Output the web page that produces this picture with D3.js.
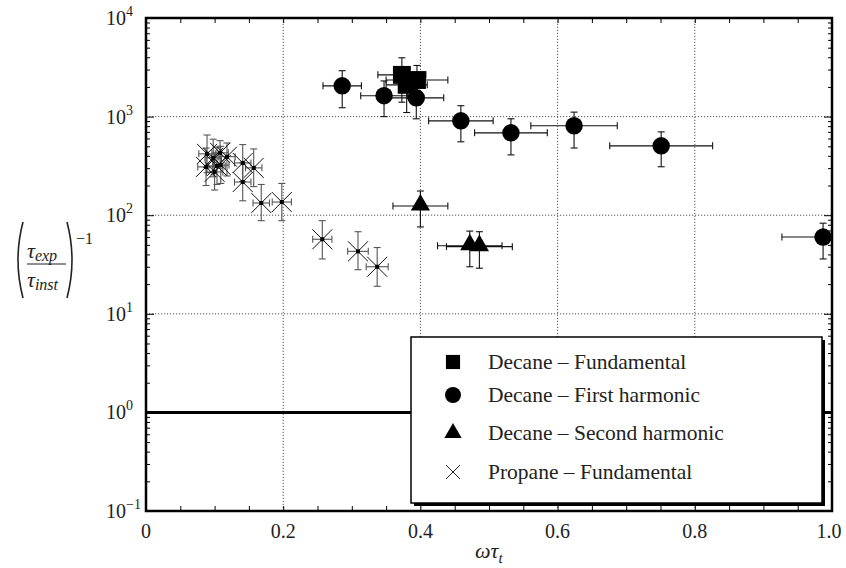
<!DOCTYPE html>
<html><head><meta charset="utf-8">
<script src="https://cdn.jsdelivr.net/npm/d3@7"></script>
<style>body{margin:0;background:#fff}svg{display:block}text{font-family:"Liberation Serif","Times New Roman",serif}</style>
</head><body><svg id="c" width="846" height="568"></svg>
<script>
// ---- data ----
const xTicks = [0, 0.2, 0.4, 0.6, 0.8, 1.0];
const xTickLabels = ["0", "0.2", "0.4", "0.6", "0.8", "1.0"];
const yTickExps = [-1, 0, 1, 2, 3, 4];

const sqX = [0.373, 0.395, 0.380];
const sqY = [2650, 2350, 2100];
const sqXerr = [0.035, 0.045, 0.030];
const sqYlo = [1400, 1700, 1100];
const sqYhi = [3950, 3300, 3000];

const ciX = [0.286, 0.347, 0.394, 0.459, 0.532, 0.624, 0.751, 0.987];
const ciY = [2050, 1630, 1550, 906, 684, 807, 505, 60];
const ciXerr = [0.028, 0.034, 0.040, 0.047, 0.053, 0.063, 0.075, 0.060];
const ciYlo = [1230, 1000, 950, 555, 409, 480, 310, 36];
const ciYhi = [2920, 2300, 2250, 1290, 950, 1110, 700, 83];

const trX = [0.400, 0.472, 0.486];
const trY = [124, 49, 48];
const trXerr = [0.040, 0.047, 0.048];
const trYlo = [76, 30, 29];
const trYhi = [176, 69, 68];

const prX = [0.089, 0.0875, 0.098, 0.1035, 0.109, 0.108, 0.118, 0.100, 0.141, 0.157, 0.141, 0.168, 0.198, 0.257, 0.309, 0.337];
const prY = [419, 309, 381, 316, 323, 429, 392, 275, 339, 302, 217, 133, 136, 57, 43, 30];
const prXerr = [0.012, 0.012, 0.012, 0.012, 0.012, 0.012, 0.012, 0.012, 0.012, 0.012, 0.012, 0.012, 0.014, 0.014, 0.015, 0.016];
const prYlo = [270, 200, 245, 205, 210, 300, 250, 180, 220, 195, 140, 88, 88, 36, 28, 19];
const prYhi = [650, 480, 590, 490, 500, 570, 540, 420, 520, 470, 340, 205, 210, 88, 68, 47];

const legendLabels = ["Decane \u2013 Fundamental", "Decane \u2013 First harmonic", "Decane \u2013 Second harmonic", "Propane \u2013 Fundamental"];

// ---- drawing ----
const svg = d3.select("#c");
const X0 = 146, X1 = 832, Y0 = 511, Y1 = 18;
const x = d3.scaleLinear().domain([0, 1]).range([X0, X1]);
const y = d3.scaleLog().domain([0.1, 1e4]).range([Y0, Y1]);

// grid
const grid = svg.append("g").attr("stroke", "#555").attr("stroke-width", 1).attr("stroke-dasharray", "1.2,1.8");
xTicks.slice(1, -1).forEach(v => grid.append("line").attr("x1", x(v)).attr("x2", x(v)).attr("y1", Y0).attr("y2", Y1));
yTickExps.slice(1, -1).forEach(e => grid.append("line").attr("x1", X0).attr("x2", X1).attr("y1", y(Math.pow(10, e))).attr("y2", y(Math.pow(10, e))));

// minor/major ticks via axes (inward)
const xMinor = d3.range(0, 1.0001, 0.05);
const axB = d3.axisTop(x).tickValues(xMinor).tickSize(5).tickFormat("");
const axT = d3.axisBottom(x).tickValues(xMinor).tickSize(5).tickFormat("");
svg.append("g").attr("transform", `translate(0,${Y0})`).call(axB).call(g => g.select(".domain").remove());
svg.append("g").attr("transform", `translate(0,${Y1})`).call(axT).call(g => g.select(".domain").remove());
const yMinor = [];
for (let e = -1; e < 4; e++) for (let m = 2; m <= 9; m++) yMinor.push(m * Math.pow(10, e));
const yMajor = yTickExps.map(e => Math.pow(10, e));
svg.append("g").attr("transform", `translate(${X0},0)`).call(d3.axisRight(y).tickValues(yMinor).tickSize(4).tickFormat("")).call(g => g.select(".domain").remove());
svg.append("g").attr("transform", `translate(${X1},0)`).call(d3.axisLeft(y).tickValues(yMinor).tickSize(4).tickFormat("")).call(g => g.select(".domain").remove());
svg.append("g").attr("transform", `translate(${X0},0)`).call(d3.axisRight(y).tickValues(yMajor).tickSize(8).tickFormat("")).call(g => g.select(".domain").remove());
svg.append("g").attr("transform", `translate(${X1},0)`).call(d3.axisLeft(y).tickValues(yMajor).tickSize(8).tickFormat("")).call(g => g.select(".domain").remove());
svg.selectAll(".tick line").attr("stroke", "#000").attr("stroke-width", 1);

// y = 1 line
svg.append("line").attr("x1", x(0)).attr("x2", x(1)).attr("y1", y(1)).attr("y2", y(1)).attr("stroke", "#000").attr("stroke-width", 3);

// frame
svg.append("rect").attr("x", X0).attr("y", Y1).attr("width", X1 - X0).attr("height", Y0 - Y1)
  .attr("fill", "none").attr("stroke", "#000").attr("stroke-width", 2.5);

// tick labels
const xl = svg.append("g").attr("font-size", 20).attr("text-anchor", "middle").attr("fill", "#222");
xTicks.forEach((v, i) => xl.append("text").attr("x", x(v) - (i === xTicks.length - 1 ? 3 : 0)).attr("y", Y0 + 27).text(xTickLabels[i]));
const yl = svg.append("g").attr("font-size", 20).attr("fill", "#222");
yTickExps.forEach(e => {
  const t = yl.append("text").attr("x", X0 - 40).attr("y", y(Math.pow(10, e)) + 7);
  t.append("tspan").text("10");
  t.append("tspan").attr("font-size", 14).attr("dy", -9).text(e < 0 ? "\u2212" + (-e) : String(e));
});

// axis titles
const xt = svg.append("text").attr("x", x(0.5) - 14).attr("y", 558).attr("font-size", 22).attr("font-style", "italic").attr("fill", "#222");
xt.append("tspan").text("\u03c9\u03c4");
xt.append("tspan").attr("font-size", 15).attr("dy", 5).text("t");

const ylab = svg.append("g").attr("fill", "#222");
const paren = (cx, top, bot, dir) => {
  const mid = (top + bot) / 2;
  return `M${cx + dir * 4},${top} Q${cx - dir * 6},${mid} ${cx + dir * 4},${bot}`;
};
ylab.append("path").attr("d", paren(19, 222, 298, 1)).attr("fill", "none").attr("stroke", "#222").attr("stroke-width", 1.6);
ylab.append("path").attr("d", paren(71, 222, 298, -1)).attr("fill", "none").attr("stroke", "#222").attr("stroke-width", 1.6);
const num = ylab.append("text").attr("x", 27).attr("y", 258).attr("font-size", 22).attr("font-style", "italic");
num.append("tspan").text("\u03c4");
num.append("tspan").attr("font-size", 16).attr("dy", 3).text("exp");
ylab.append("line").attr("x1", 27).attr("x2", 66).attr("y1", 264).attr("y2", 264).attr("stroke", "#222").attr("stroke-width", 1.2);
const den = ylab.append("text").attr("x", 27).attr("y", 287).attr("font-size", 22).attr("font-style", "italic");
den.append("tspan").text("\u03c4");
den.append("tspan").attr("font-size", 16).attr("dy", 3).text("inst");
ylab.append("text").attr("x", 76).attr("y", 244).attr("font-size", 16).text("\u22121");

// error bars
function errBars(xs, ys, xe, ylo, yhi, color) {
  const g = svg.append("g").attr("stroke", color).attr("stroke-width", 1.1).attr("fill", "none");
  const c = 3.5;
  xs.forEach((v, i) => {
    const px = x(v), py = y(ys[i]);
    const xa = x(v - xe[i]), xb = Math.min(x(v + xe[i]), X1);
    g.append("line").attr("x1", xa).attr("x2", xb).attr("y1", py).attr("y2", py);
    g.append("line").attr("x1", xa).attr("x2", xa).attr("y1", py - c).attr("y2", py + c);
    if (x(v + xe[i]) <= X1) g.append("line").attr("x1", xb).attr("x2", xb).attr("y1", py - c).attr("y2", py + c);
    const ya = y(yhi[i]), yb = y(ylo[i]);
    g.append("line").attr("x1", px).attr("x2", px).attr("y1", ya).attr("y2", yb);
    g.append("line").attr("x1", px - c).attr("x2", px + c).attr("y1", ya).attr("y2", ya);
    g.append("line").attr("x1", px - c).attr("x2", px + c).attr("y1", yb).attr("y2", yb);
  });
}
errBars(prX, prY, prXerr, prYlo, prYhi, "#555");
errBars(sqX, sqY, sqXerr, sqYlo, sqYhi, "#111");
errBars(ciX, ciY, ciXerr, ciYlo, ciYhi, "#111");
errBars(trX, trY, trXerr, trYlo, trYhi, "#111");

// markers
svg.append("clipPath").attr("id", "pc").append("rect").attr("x", X0).attr("y", Y1).attr("width", X1 - X0).attr("height", Y0 - Y1);
const mk = svg.append("g").attr("clip-path", "url(#pc)");
const sqSym = d3.symbol().type(d3.symbolSquare).size(320);
const ciSym = d3.symbol().type(d3.symbolCircle).size(240);
const trSym = d3.symbol().type(d3.symbolTriangle).size(160);
prX.forEach((v, i) => {
  const px = x(v), py = y(prY[i]), s = 10;
  mk.append("path").attr("d", `M${px - s},${py - s}L${px + s},${py + s}M${px - s},${py + s}L${px + s},${py - s}`).attr("stroke", "#111").attr("stroke-width", 1);
  mk.append("rect").attr("x", px - 2).attr("y", py - 2).attr("width", 4).attr("height", 4).attr("fill", "#000");
});
sqX.forEach((v, i) => mk.append("path").attr("d", sqSym()).attr("transform", `translate(${x(v)},${y(sqY[i])})`).attr("fill", "#000"));
ciX.forEach((v, i) => mk.append("path").attr("d", ciSym()).attr("transform", `translate(${x(v)},${y(ciY[i])})`).attr("fill", "#000"));
trX.forEach((v, i) => mk.append("path").attr("d", trSym()).attr("transform", `translate(${x(v)},${y(trY[i]) - 1})`).attr("fill", "#000"));

// legend
const LX = 411, LY = 337, LW = 411, LH = 166;
svg.append("rect").attr("x", LX + 3).attr("y", LY + 3).attr("width", LW).attr("height", LH).attr("fill", "#000");
svg.append("rect").attr("x", LX).attr("y", LY).attr("width", LW).attr("height", LH).attr("fill", "#fff").attr("stroke", "#000").attr("stroke-width", 1.5);
const rowsY = [362, 395, 433, 472];
const lg = svg.append("g");
lg.append("path").attr("d", d3.symbol().type(d3.symbolSquare).size(200)()).attr("transform", `translate(453,${rowsY[0]})`).attr("fill", "#000");
lg.append("path").attr("d", d3.symbol().type(d3.symbolCircle).size(200)()).attr("transform", `translate(453,${rowsY[1]})`).attr("fill", "#000");
lg.append("path").attr("d", d3.symbol().type(d3.symbolTriangle).size(130)()).attr("transform", `translate(453,${rowsY[2]})`).attr("fill", "#000");
lg.append("path").attr("d", `M446,${rowsY[3] - 7}L460,${rowsY[3] + 7}M446,${rowsY[3] + 7}L460,${rowsY[3] - 7}`).attr("stroke", "#222").attr("stroke-width", 1);
legendLabels.forEach((t, i) => lg.append("text").attr("x", 488).attr("y", rowsY[i] + 7).attr("font-size", 21.5).attr("fill", "#222").text(t));
</script></body></html>
